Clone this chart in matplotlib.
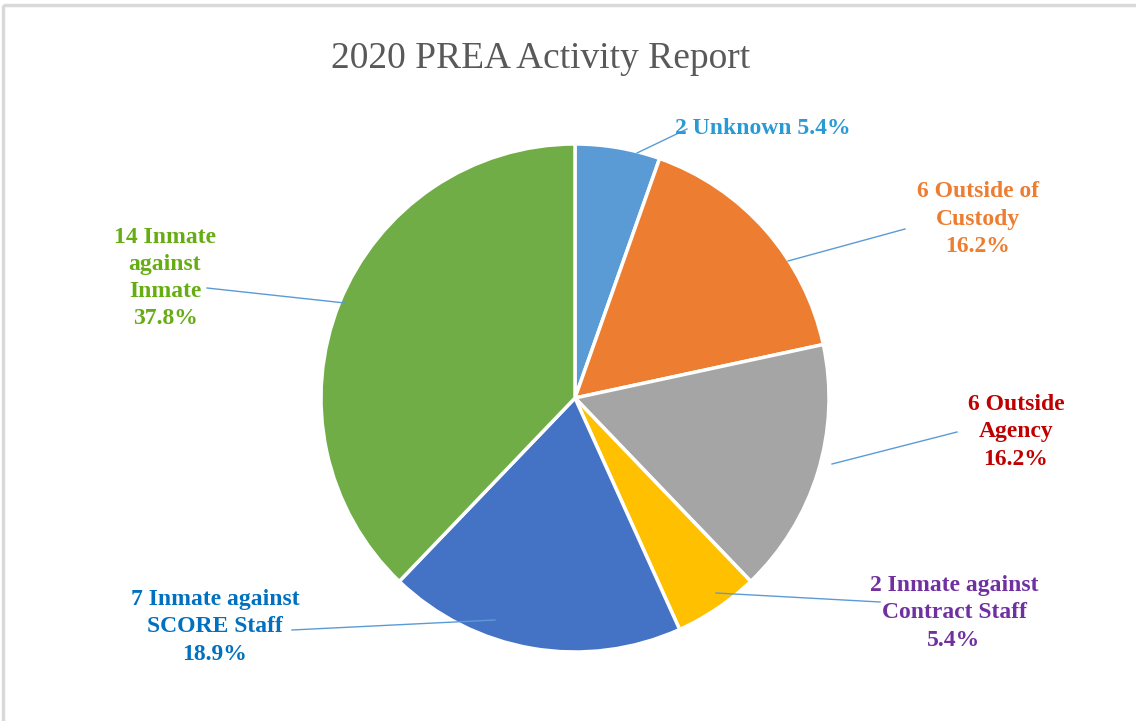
import matplotlib.pyplot as plt
from matplotlib.patches import Rectangle

# data
categories = ["Unknown", "Outside of Custody", "Outside Agency",
              "Inmate against Contract Staff", "Inmate against SCORE Staff",
              "Inmate against Inmate"]
counts = [2, 6, 6, 2, 7, 14]
label_texts = ["2 Unknown 5.4%", "6 Outside of\nCustody\n16.2%",
               "6 Outside\nAgency\n16.2%", "2 Inmate against\nContract Staff\n5.4%",
               "7 Inmate against\nSCORE Staff\n18.9%", "14 Inmate\nagainst\nInmate\n37.8%"]

slice_colors = ["#5B9BD5", "#ED7D31", "#A5A5A5", "#FFC000", "#4472C4", "#70AD47"]
label_colors = ["#2A9AD4", "#ED7D31", "#C00000", "#7030A0", "#0070C0", "#66AC13"]

W, H = 1136, 721
fig = plt.figure(figsize=(W / 100, H / 100), dpi=100)
ax = fig.add_axes([0, 0, 1, 1])

cx, cy, r = 575, 398, 254
# y axis gets inverted below, so start at -90 and go "counterclock" in data
# space -> starts at the top and runs clockwise on screen
ax.pie(counts, colors=slice_colors, startangle=-90, counterclock=True,
       center=(cx, cy), radius=r, frame=True,
       wedgeprops=dict(edgecolor="white", linewidth=2.5))
ax.set_xlim(0, W)
ax.set_ylim(H, 0)
ax.set_aspect("equal")
ax.axis("off")

# light frame of the chart area
ax.add_patch(Rectangle((3, 5), W + 10, H, fill=False, edgecolor="#D9D9D9", lw=2.5))

# label positions (centre of text block) and leader lines
label_pos = [(763, 129), (978, 219), (1016, 432), (954, 613), (215, 627), (165, 278)]
leaders = [((637, 153), (687, 129)), ((788, 261), (905, 229)),
           ((832, 464), (957, 432)), ((716, 593), (880, 602)),
           ((495, 620), (292, 630)), ((345, 303), (207, 288))]

for (x, y), txt, col in zip(label_pos, label_texts, label_colors):
    ax.text(x, y, txt, ha="center", va="center", color=col, fontsize=17,
            fontweight="bold", family="Liberation Serif", linespacing=1.38)

for (p0, p1) in leaders:
    ax.plot([p0[0], p1[0]], [p0[1], p1[1]], color="#5B9BD5", lw=1)

ax.text(541, 59, "2020 PREA Activity Report", ha="center", va="center",
        color="#595959", fontsize=27, family="Liberation Serif")

fig.savefig("out.png", dpi=100)
